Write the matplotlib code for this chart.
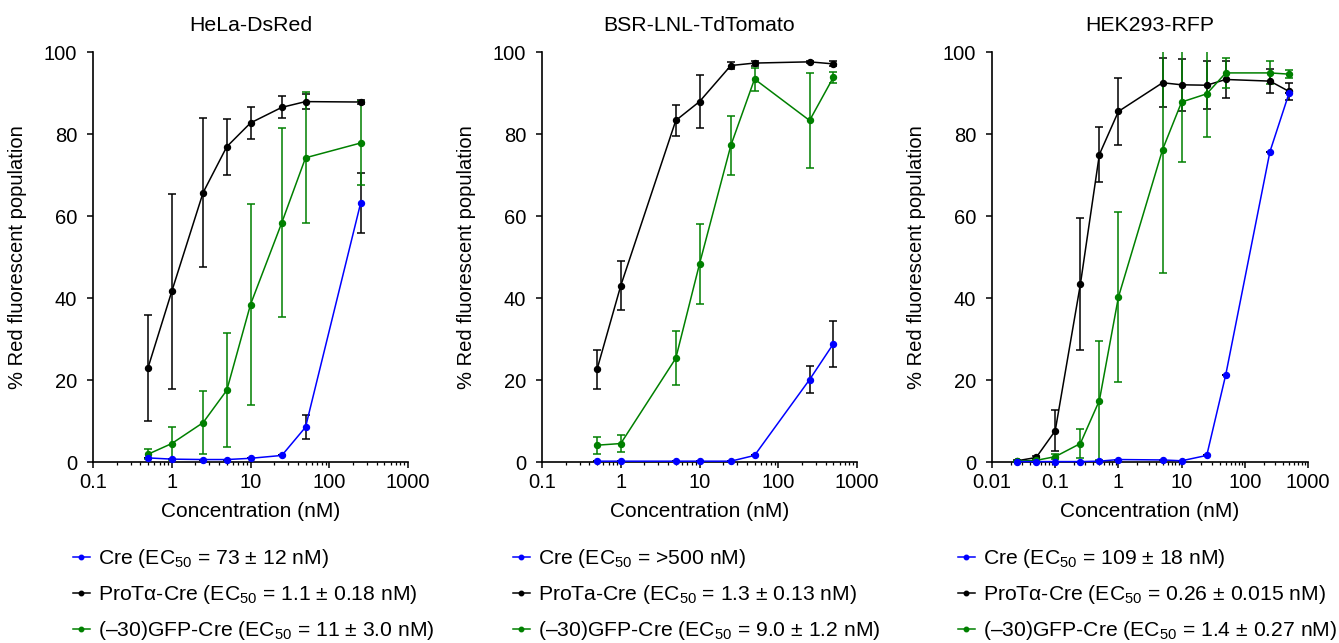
import matplotlib
matplotlib.use("Agg")
import matplotlib.pyplot as plt
from matplotlib.ticker import FixedLocator, FixedFormatter, LogLocator, NullFormatter

plt.rcParams['font.family'] = ['Liberation Sans', 'DejaVu Sans']
plt.rcParams['mathtext.fontset'] = 'custom'
plt.rcParams['mathtext.rm'] = 'Liberation Sans'
plt.rcParams['mathtext.it'] = 'Liberation Sans:italic'
plt.rcParams['mathtext.sf'] = 'Liberation Sans'

# ---------------- data ----------------
titles = ["HeLa-DsRed", "BSR-LNL-TdTomato", "HEK293-RFP"]

conc1 = [0.5, 1, 2.5, 5, 10, 25, 50, 250]
cre1 = [1.0, 0.7, 0.6, 0.6, 0.9, 1.6, 8.5, 63.1]
cre1_err = [0, 0, 0, 0, 0, 0, 3.0, 7.3]
prot1 = [23.0, 41.6, 65.7, 76.9, 82.7, 86.5, 87.9, 87.8]
prot1_err = [12.9, 23.7, 18.1, 6.8, 3.9, 2.7, 1.8, 0.4]
gfp1 = [1.9, 4.5, 9.6, 17.5, 38.4, 58.4, 74.2, 77.8]
gfp1_err = [1.2, 4.1, 7.7, 13.9, 24.5, 23.1, 16.0, 10.2]

conc2 = [0.5, 1, 5, 10, 25, 50, 250, 500]
cre2 = [0.2, 0.2, 0.2, 0.2, 0.2, 1.6, 20.1, 28.8]
cre2_err = [0, 0, 0, 0, 0, 0, 3.3, 5.6]
prot2 = [22.6, 43.0, 83.3, 87.9, 96.7, 97.3, 97.6, 97.1]
prot2_err = [4.8, 6.0, 3.8, 6.5, 0.8, 0.6, 0.2, 0.6]
gfp2 = [4.1, 4.5, 25.3, 48.3, 77.2, 93.4, 83.3, 93.8]
gfp2_err = [2.1, 2.0, 6.6, 9.8, 7.2, 2.8, 11.5, 1.4]

conc3 = [0.025, 0.05, 0.1, 0.25, 0.5, 1, 5, 10, 25, 50, 250, 500]
cre3 = [0.1, 0.1, 0.1, 0.1, 0.2, 0.6, 0.5, 0.3, 1.6, 21.3, 75.7, 89.9]
cre3_err = [0, 0, 0, 0, 0, 0, 0, 0, 0, 0, 0, 0]
prot3 = [0.3, 1.1, 7.6, 43.3, 75.0, 85.5, 92.5, 92.0, 91.9, 93.3, 92.9, 90.4]
prot3_err = [0.2, 0.3, 5.0, 16.1, 6.8, 8.2, 6.0, 6.3, 5.9, 4.6, 2.9, 2.1]
gfp3 = [0.2, 0.4, 1.3, 4.5, 15.0, 40.2, 76.2, 87.8, 89.8, 94.9, 94.9, 94.6]
gfp3_err = [0.1, 0.2, 0.6, 3.5, 14.4, 20.8, 30.2, 14.7, 10.6, 3.6, 2.8, 0.9]

xticks12 = [0.1, 1, 10, 100, 1000]
xlabels12 = ["0.1", "1", "10", "100", "1000"]
xticks3 = [0.01, 0.1, 1, 10, 100, 1000]
xlabels3 = ["0.01", "0.1", "1", "10", "100", "1000"]
yticks = [0, 20, 40, 60, 80, 100]

labels1 = [r"Cre (EC$_{50}$ = 73 $\pm$ 12 nM)",
           r"ProTα-Cre (EC$_{50}$ = 1.1 $\pm$ 0.18 nM)",
           r"(–30)GFP-Cre (EC$_{50}$ = 11 $\pm$ 3.0 nM)"]
labels2 = [r"Cre (EC$_{50}$ = >500 nM)",
           r"ProTa-Cre (EC$_{50}$ = 1.3 ± 0.13 nM)",
           r"(–30)GFP-Cre (EC$_{50}$ = 9.0 $\pm$ 1.2 nM)"]
labels3 = [r"Cre (EC$_{50}$ = 109 $\pm$ 18 nM)",
           r"ProTα-Cre (EC$_{50}$ = 0.26 $\pm$ 0.015 nM)",
           r"(–30)GFP-Cre (EC$_{50}$ = 1.4 $\pm$ 0.27 nM)"]

BLUE = "#0000ff"
BLACK = "#000000"
GREEN = "#008000"

panels = [
    (conc1, cre1, cre1_err, prot1, prot1_err, gfp1, gfp1_err, xticks12, xlabels12, labels1, 0.1),
    (conc2, cre2, cre2_err, prot2, prot2_err, gfp2, gfp2_err, xticks12, xlabels12, labels2, 0.1),
    (conc3, cre3, cre3_err, prot3, prot3_err, gfp3, gfp3_err, xticks3, xlabels3, labels3, 0.01),
]

W, H = 1339, 643
fig = plt.figure(figsize=(W / 100, H / 100), dpi=100)

ax_lefts = [93, 542, 992]
ax_widths = [315, 315, 316]
ax_top, ax_bot = 52, 462
leg_x = [73, 513, 958]

for i, (conc, cre, cre_e, prot, prot_e, gfp, gfp_e, xt, xl, labs, xmin) in enumerate(panels):
    ax = fig.add_axes([ax_lefts[i] / W, 1 - ax_bot / H, ax_widths[i] / W, (ax_bot - ax_top) / H])
    ax.set_xscale("log")
    ax.set_xlim(xmin, 1000)
    ax.set_ylim(0, 100)

    lw = 1.1
    ms = 4.3
    ekw = dict(fmt="none", elinewidth=1.1, capsize=2.8, capthick=1.1)

    # error bars
    ax.errorbar(conc, prot, yerr=prot_e, ecolor=BLACK, zorder=2, **ekw)
    ax.errorbar(conc, gfp, yerr=gfp_e, ecolor=GREEN, zorder=3, **ekw)
    ax.errorbar(conc, cre, yerr=cre_e, ecolor=BLACK, zorder=2, **ekw)

    # lines + markers
    h_prot, = ax.plot(conc, prot, color=BLACK, lw=lw, marker="o", ms=ms, clip_on=False, zorder=4)
    h_gfp, = ax.plot(conc, gfp, color=GREEN, lw=lw, marker="o", ms=ms, clip_on=False, zorder=5)
    h_cre, = ax.plot(conc, cre, color=BLUE, lw=lw, marker="o", ms=ms, clip_on=False, zorder=6)

    for s in ["top", "right"]:
        ax.spines[s].set_visible(False)
    for s in ["left", "bottom"]:
        ax.spines[s].set_linewidth(1.2)

    ax.xaxis.set_major_locator(FixedLocator(xt))
    ax.xaxis.set_major_formatter(FixedFormatter(xl))
    ax.xaxis.set_minor_locator(LogLocator(base=10, subs=range(2, 10), numticks=20))
    ax.xaxis.set_minor_formatter(NullFormatter())
    ax.set_yticks(yticks)
    ax.set_yticklabels([str(v) for v in yticks])

    ax.tick_params(axis="both", which="major", direction="out", length=4.5, width=1.1,
                   labelsize=14.5, color=BLACK)
    ax.tick_params(axis="x", which="minor", direction="out", length=2.5, width=0.9)
    ax.tick_params(axis="y", which="major", pad=7)
    ax.tick_params(axis="x", which="major", pad=3.5)

    ax.set_title(titles[i], fontsize=15.3, pad=15)
    ax.set_xlabel("Concentration (nM)", fontsize=15)
    ax.xaxis.set_label_coords(0.5, -0.098)
    ax.set_ylabel("% Red fluorescent population", fontsize=14.5)
    ax.yaxis.set_label_coords(-0.21, 0.5)

    fig.legend([h_cre, h_prot, h_gfp], labs, loc="upper left",
               bbox_to_anchor=(leg_x[i] / W, 1 - 547 / H), frameon=False,
               fontsize=15.2, handlelength=0.8, handletextpad=0.4, borderpad=0,
               borderaxespad=0, labelspacing=0.62, markerscale=0.75)

fig.savefig("out.png", dpi=100)
